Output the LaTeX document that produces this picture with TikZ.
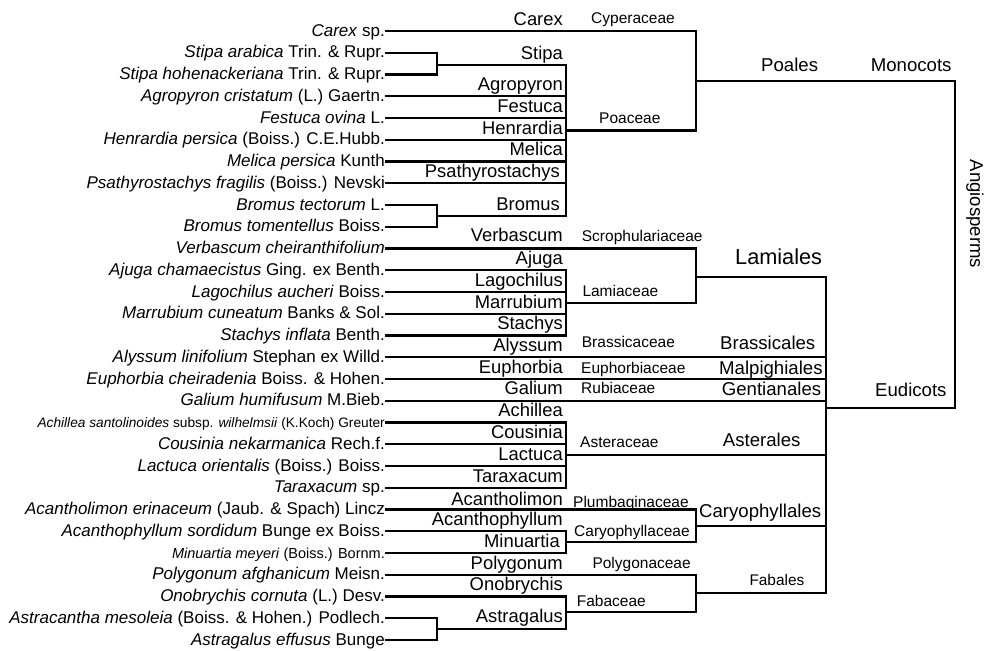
\documentclass[tikz,border=0pt]{standalone}
\usepackage{fontspec}
\setmainfont{Liberation Sans}
\usepackage{tikz}

\begin{document}
\begin{tikzpicture}[x=1pt,y=-1pt,
	sp/.style={anchor=east,inner sep=0pt,text height=10pt,text depth=0pt,font=\fontsize{17}{20}\selectfont},
	gen/.style={anchor=base east,inner sep=0pt,font=\fontsize{18.4}{22}\selectfont},
	fam/.style={anchor=base west,inner sep=0pt,font=\fontsize{15.5}{18}\selectfont},
	ord/.style={anchor=base west,inner sep=0pt,font=\fontsize{18.6}{22}\selectfont},
	branch/.style={line width=2.2pt}]

	\useasboundingbox (0,0) rectangle (986,651);

	%Species at the tips
	\node [sp](carex) at (385,31) {\textit{Carex} sp.};
	\node [sp](stipa1) at (385,52.75) {\textit{Stipa arabica} Trin. \& Rupr.};
	\node [sp](stipa2) at (385,74.5) {\textit{Stipa hohenackeriana} Trin. \& Rupr.};
	\node [sp](agro) at (385,96.25) {\textit{Agropyron cristatum} (L.) Gaertn.};
	\node [sp](fest) at (385,118) {\textit{Festuca ovina} L.};
	\node [sp](henr) at (385,139.75) {\textit{Henrardia persica} (Boiss.) C.E.Hubb.};
	\node [sp](meli) at (385,161.5) {\textit{Melica persica} Kunth};
	\node [sp](psat) at (385,183.25) {\textit{Psathyrostachys fragilis} (Boiss.) Nevski};
	\node [sp](brom1) at (385,205) {\textit{Bromus tectorum} L.};
	\node [sp](brom2) at (385,226.75) {\textit{Bromus tomentellus} Boiss.};
	\node [sp](verb) at (385,248.5) {\textit{Verbascum cheiranthifolium}};
	\node [sp](ajug) at (385,270.25) {\textit{Ajuga chamaecistus} Ging. ex Benth.};
	\node [sp](lago) at (385,292) {\textit{Lagochilus aucheri} Boiss.};
	\node [sp](marr) at (385,313.75) {\textit{Marrubium cuneatum} Banks \& Sol.};
	\node [sp](stac) at (385,335.5) {\textit{Stachys inflata} Benth.};
	\node [sp](alys) at (385,357.25) {\textit{Alyssum linifolium} Stephan ex Willd.};
	\node [sp](euph) at (385,379) {\textit{Euphorbia cheiradenia} Boiss. \& Hohen.};
	\node [sp](gali) at (385,400.75) {\textit{Galium humifusum} M.Bieb.};
	\node [sp,font=\fontsize{13.7}{16}\selectfont](achi) at (385,422.5) {\textit{Achillea santolinoides} subsp. \textit{wilhelmsii} (K.Koch) Greuter};
	\node [sp](cous) at (385,444.25) {\textit{Cousinia nekarmanica} Rech.f.};
	\node [sp](lact) at (385,466) {\textit{Lactuca orientalis} (Boiss.) Boiss.};
	\node [sp](tara) at (385,487.75) {\textit{Taraxacum} sp.};
	\node [sp](acal) at (385,509.5) {\textit{Acantholimon erinaceum} (Jaub. \& Spach) Lincz};
	\node [sp](acap) at (385,531.25) {\textit{Acanthophyllum sordidum} Bunge ex Boiss.};
	\node [sp,font=\fontsize{14.5}{17}\selectfont](minu) at (385,553) {\textit{Minuartia meyeri} (Boiss.) Bornm.};
	\node [sp](poly) at (385,574.75) {\textit{Polygonum afghanicum} Meisn.};
	\node [sp](onob) at (385,596.5) {\textit{Onobrychis cornuta} (L.) Desv.};
	\node [sp](astr1) at (385,618.25) {\textit{Astracantha mesoleia} (Boiss. \& Hohen.) Podlech.};
	\node [sp](astr2) at (385,640) {\textit{Astragalus effusus} Bunge};

	%Joints of the tree
	\coordinate (jstipa) at (437,64.6);
	\coordinate (jbrom) at (437,216);
	\coordinate (jastr) at (437,629);
	\coordinate (poaceae) at (566,130.5);
	\coordinate (poales) at (696,80.7);
	\coordinate (lamiaceae) at (566,303.3);
	\coordinate (lamiales) at (696,276.7);
	\coordinate (asteraceae) at (566,455);
	\coordinate (caryoph) at (566,541.7);
	\coordinate (caryales) at (696,526.3);
	\coordinate (fabaceae) at (566,612.3);
	\coordinate (fabales) at (696,593.3);
	\coordinate (eudicots) at (826,407.7);
	\coordinate (angio) at (955,244);

	%Monocots
	\draw [branch] (stipa1.east) -| (jstipa) |- (stipa2.east);
	\draw [branch] (brom1.east) -| (jbrom) |- (brom2.east);
	\draw [branch] (jstipa) -| (poaceae);
	\draw [branch] (agro.east) -| (poaceae);
	\draw [branch] (fest.east) -| (poaceae);
	\draw [branch] (henr.east) -| (poaceae);
	\draw [branch] (meli.east) -| (poaceae);
	\draw [branch] (psat.east) -| (poaceae);
	\draw [branch] (jbrom) -| (poaceae);
	\draw [branch] (carex.east) -| (poales);
	\draw [branch] (poaceae) -| (poales);
	\draw [branch] (poales) -| (angio);

	%Eudicots
	\draw [branch] (ajug.east) -| (lamiaceae);
	\draw [branch] (lago.east) -| (lamiaceae);
	\draw [branch] (marr.east) -| (lamiaceae);
	\draw [branch] (stac.east) -| (lamiaceae);
	\draw [branch] (verb.east) -| (lamiales);
	\draw [branch] (lamiaceae) -| (lamiales);
	\draw [branch] (lamiales) -| (eudicots);
	\draw [branch] (alys.east) -| (eudicots);
	\draw [branch] (euph.east) -| (eudicots);
	\draw [branch] (gali.east) -| (eudicots);
	\draw [branch] (achi.east) -| (asteraceae);
	\draw [branch] (cous.east) -| (asteraceae);
	\draw [branch] (lact.east) -| (asteraceae);
	\draw [branch] (tara.east) -| (asteraceae);
	\draw [branch] (asteraceae) -| (eudicots);
	\draw [branch] (acap.east) -| (caryoph);
	\draw [branch] (minu.east) -| (caryoph);
	\draw [branch] (acal.east) -| (caryales);
	\draw [branch] (caryoph) -| (caryales);
	\draw [branch] (caryales) -| (eudicots);
	\draw [branch] (astr1.east) -| (jastr) |- (astr2.east);
	\draw [branch] (onob.east) -| (fabaceae);
	\draw [branch] (jastr) -| (fabaceae);
	\draw [branch] (poly.east) -| (fabales);
	\draw [branch] (fabaceae) -| (fabales);
	\draw [branch] (fabales) -| (eudicots);
	\draw [branch] (eudicots) -| (angio);

	%Genera
	\node [gen](gcarex) at (563,25) {Carex};
	\node [gen](gstipa) at (563,59) {Stipa};
	\node [gen](gagro) at (563,90) {Agropyron};
	\node [gen](gfest) at (563,112) {Festuca};
	\node [gen](ghenr) at (563,134) {Henrardia};
	\node [gen](gmeli) at (563,155.5) {Melica};
	\node [gen](gpsat) at (560,177) {Psathyrostachys};
	\node [gen](gbrom) at (560,210) {Bromus};
	\node [gen](gverb) at (563,241.5) {Verbascum};
	\node [gen](gajug) at (563,264.3) {Ajuga};
	\node [gen](glago) at (563,286) {Lagochilus};
	\node [gen](gmarr) at (563,308) {Marrubium};
	\node [gen](gstac) at (563,329.5) {Stachys};
	\node [gen](galys) at (563,351) {Alyssum};
	\node [gen](geuph) at (563,373) {Euphorbia};
	\node [gen](ggali) at (563,394.5) {Galium};
	\node [gen](gachi) at (563,416.5) {Achillea};
	\node [gen](gcous) at (563,438) {Cousinia};
	\node [gen](glact) at (563,460) {Lactuca};
	\node [gen](gtara) at (563,482) {Taraxacum};
	\node [gen](gacal) at (563,505) {Acantholimon};
	\node [gen](gacap) at (563,525.5) {Acanthophyllum};
	\node [gen](gminu) at (560,547) {Minuartia};
	\node [gen](gpoly) at (563,569) {Polygonum};
	\node [gen](gonob) at (563,590.5) {Onobrychis};
	\node [gen](gastr) at (563,622) {Astragalus};

	%Families
	\node [fam](fcyper) at (591,23) {Cyperaceae};
	\node [fam](fpoac) at (599,123.3) {Poaceae};
	\node [fam](fscro) at (581.7,241.7) {Scrophulariaceae};
	\node [fam](flami) at (582.3,296.7) {Lamiaceae};
	\node [fam](fbras) at (581.7,347.3) {Brassicaceae};
	\node [fam](feuph) at (581,373.3) {Euphorbiaceae};
	\node [fam](frubi) at (581,393.3) {Rubiaceae};
	\node [fam](faste) at (580,447.7) {Asteraceae};
	\node [fam](fplum) at (573,507.3) {Plumbaginaceae};
	\node [fam](fcary) at (574,536.7) {Caryophyllaceae};
	\node [fam](fpoly) at (592.3,568.3) {Polygonaceae};
	\node [fam](ffaba) at (576.7,606) {Fabaceae};

	%Orders and clades
	\node [ord](opoal) at (761,71.7) {Poales};
	\node [ord](lmono) at (870.7,71.7) {Monocots};
	\node [ord,font=\fontsize{21.7}{26}\selectfont](olami) at (735,264) {Lamiales};
	\node [ord](obras) at (720,349) {Brassicales};
	\node [ord](omalp) at (719,374.5) {Malpighiales};
	\node [ord](ogent) at (721.7,395.5) {Gentianales};
	\node [ord](oaste) at (722.7,446.7) {Asterales};
	\node [ord](ocary) at (699,517.3) {Caryophyllales};
	\node [ord,font=\fontsize{15.4}{18}\selectfont](ofaba) at (749.3,585.7) {Fabales};
	\node [ord](leudi) at (875,396.7) {Eudicots};
	\node [ord,anchor=center,rotate=-90](langio) at (975,214) {Angiosperms};

\end{tikzpicture}
\end{document}
